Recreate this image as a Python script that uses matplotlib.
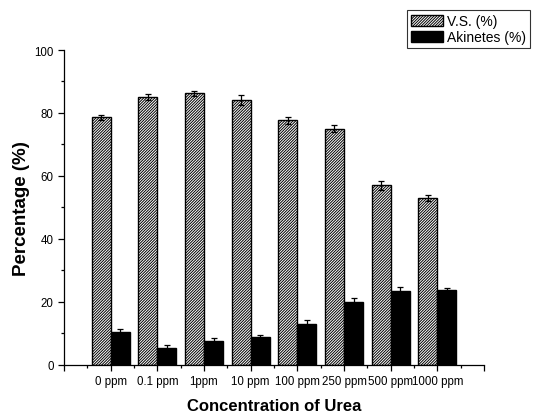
import matplotlib
matplotlib.use("Agg")
import matplotlib.pyplot as plt
import numpy as np

categories = ["0 ppm", "0.1 ppm", "1ppm", "10 ppm", "100 ppm", "250 ppm", "500 ppm", "1000 ppm"]
vs_values = [78.7, 85.0, 86.3, 84.0, 77.6, 75.0, 57.0, 53.0]
vs_err = [0.8, 1.0, 0.8, 1.6, 1.0, 1.1, 1.4, 1.0]
akinetes_values = [10.3, 5.4, 7.4, 8.7, 12.8, 20.0, 23.4, 23.7]
akinetes_err = [0.9, 0.9, 1.1, 0.8, 1.3, 1.3, 1.2, 0.8]

plt.rcParams['font.family'] = ['Liberation Sans', 'DejaVu Sans']
plt.rcParams['hatch.linewidth'] = 0.7

fig = plt.figure(figsize=(5.34, 4.14), dpi=100)
ax = fig.add_axes([64/534, 1-365.7/414, 420/534, (365.7-51)/414])

x = np.arange(1, len(categories) + 1)
w = 0.41
ax.bar(x - w/2, vs_values, w, color='white', edgecolor='black', hatch='/' * 12,
       linewidth=1.0, label='V.S. (%)', zorder=2)
ax.bar(x + w/2, akinetes_values, w, color='black', edgecolor='black',
       linewidth=1.0, label='Akinetes (%)', zorder=2)
ax.errorbar(x - w/2, vs_values, yerr=vs_err, fmt='none', ecolor='black',
            elinewidth=0.9, capsize=2.3, capthick=0.9, zorder=3)
ax.errorbar(x + w/2, akinetes_values, yerr=akinetes_err, fmt='none', ecolor='black',
            elinewidth=0.9, capsize=2.3, capthick=0.9, zorder=3)

ax.set_xlim(0, 9)
ax.set_ylim(0, 100)
ax.set_xticks(np.arange(0, 10))
ax.set_xticklabels([""] + categories + [""], fontsize=8.3)
ax.set_xticks(np.arange(0.5, 9, 1), minor=True)
ax.set_yticks(np.arange(0, 101, 20))
ax.set_yticks(np.arange(10, 100, 20), minor=True)
ax.tick_params(axis='y', labelsize=8.3)
ax.tick_params(which='major', direction='out', length=4, width=0.9)
ax.tick_params(which='minor', direction='out', length=2.2, width=0.9)
for s in ['top', 'right']:
    ax.spines[s].set_visible(False)
for s in ['left', 'bottom']:
    ax.spines[s].set_linewidth(0.9)

ax.set_xlabel('Concentration of Urea', fontsize=12, fontweight='bold', labelpad=8)
ax.set_ylabel('Percentage (%)', fontsize=13.5, fontweight='bold', labelpad=3)

leg = fig.legend(loc='upper right', bbox_to_anchor=(530/534, 1-11/414),
                 fontsize=10, frameon=True, fancybox=False, shadow=False,
                 handlelength=2.3, handleheight=0.9, labelspacing=0.15,
                 borderpad=0.3, handletextpad=0.3, borderaxespad=0)
leg.get_frame().set_edgecolor('black')
leg.get_frame().set_linewidth(0.8)

fig.savefig('out.png', dpi=100)
